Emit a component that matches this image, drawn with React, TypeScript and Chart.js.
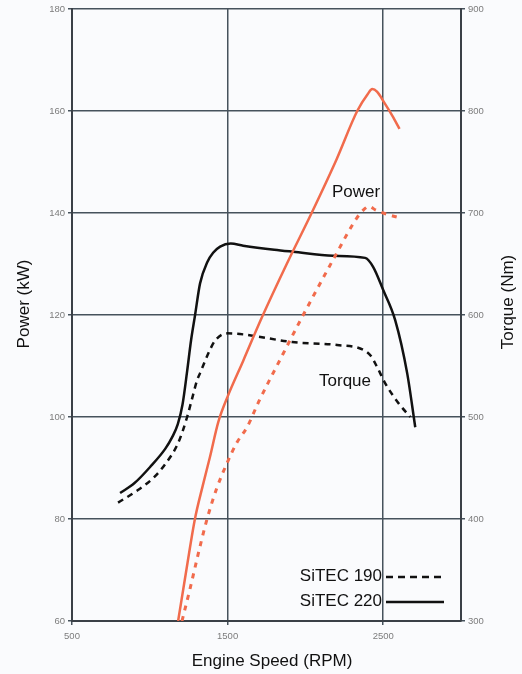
import { useEffect, useRef } from "react";
import { Chart, registerables } from "chart.js";

Chart.register(...registerables);

// ---- Data ----
const rpmTicks = [500, 1500, 2500];

const power220Rpm = [1182, 1235, 1290, 1340, 1387, 1440, 1500, 1600, 1720, 1880, 2040, 2200, 2333, 2400, 2430, 2460, 2510, 2560, 2605];
const power220Kw = [60, 70, 80, 86.5, 92.2, 99, 104, 111, 119.5, 130, 140, 150.5, 160, 163.3, 164.3, 163.8, 161.5, 159, 156.5];

const power190Rpm = [1207, 1260, 1310, 1368, 1430, 1497, 1560, 1625, 1700, 1850, 1986, 2190, 2330, 2380, 2410, 2450, 2500, 2610];
const power190Kw = [60, 66.5, 73, 80, 86, 91, 95, 98, 103, 112, 120, 131.5, 139, 140.8, 141.3, 140.6, 140, 139];

const torque220Rpm = [809, 900, 1002, 1100, 1143, 1180, 1210, 1240, 1265, 1291, 1323, 1370, 1407, 1452, 1520, 1600, 1800, 1921, 2178, 2384, 2436, 2500, 2577, 2654, 2706];
const torque220Nm = [425.5, 435, 451, 469, 480, 493, 512, 545, 575, 600, 631, 652, 661, 667, 670, 668, 664, 662, 658, 656, 647, 624.5, 595, 543, 490];

const torque190Rpm = [796, 900, 1021, 1100, 1182, 1240, 1270, 1304, 1323, 1387, 1420, 1497, 1600, 1915, 2204, 2371, 2420, 2461, 2513, 2596, 2674];
const torque190Nm = [416, 426, 440, 454, 474.5, 500, 517, 536, 543, 566, 575, 582, 581, 573.5, 570.6, 566, 560, 549, 533, 514, 500];

const legendLabels = ["SiTEC 190", "SiTEC 220"];
const seriesLabels = ["Power", "Torque"];
const axisTitles = { x: "Engine Speed (RPM)", y: "Power (kW)", y2: "Torque (Nm)" };

const zip = (xs: number[], ys: number[]) => xs.map((x, i) => ({ x, y: ys[i] }));

const ORANGE = "#f16b4c";
const BLACK = "#111111";
const GRID = "#46525c";
const TICKTXT = "#7c7c7c";
const FONT = "'Liberation Sans', Arial, sans-serif";

const textPlugin = {
  id: "textPlugin",
  afterDraw(chart: any) {
    const ctx = chart.ctx;
    ctx.save();
    ctx.fillStyle = "#111";
    ctx.font = `17px ${FONT}`;
    ctx.textAlign = "center";
    ctx.textBaseline = "middle";
    // axis titles
    ctx.fillText(axisTitles.x, 272, 661);
    ctx.save();
    ctx.translate(24, 304);
    ctx.rotate(-Math.PI / 2);
    ctx.fillText(axisTitles.y, 0, 0);
    ctx.restore();
    ctx.save();
    ctx.translate(508, 302);
    ctx.rotate(-Math.PI / 2);
    ctx.fillText(axisTitles.y2, 0, 0);
    ctx.restore();
    // series annotations
    ctx.fillText(seriesLabels[0], 356, 192);
    ctx.fillText(seriesLabels[1], 345, 381);
    // legend
    ctx.textAlign = "right";
    ctx.fillText(legendLabels[0], 382, 576);
    ctx.fillText(legendLabels[1], 382, 601);
    ctx.strokeStyle = BLACK;
    ctx.lineWidth = 2.5;
    ctx.setLineDash([7, 5]);
    ctx.beginPath();
    ctx.moveTo(386, 577);
    ctx.lineTo(444, 577);
    ctx.stroke();
    ctx.setLineDash([]);
    ctx.beginPath();
    ctx.moveTo(386, 602);
    ctx.lineTo(444, 602);
    ctx.stroke();
    ctx.restore();
  },
};

export default function App() {
  const ref = useRef<HTMLCanvasElement | null>(null);

  useEffect(() => {
    if (!ref.current) return;
    const tickFont = { size: 9.5, family: FONT };
    const plain = (v: any) => String(v);
    const chart = new Chart(ref.current, {
      type: "line",
      data: {
        datasets: [
          {
            label: "Power SiTEC 220",
            data: zip(power220Rpm, power220Kw),
            borderColor: ORANGE,
            borderWidth: 2.5,
            yAxisID: "y",
          },
          {
            label: "Power SiTEC 190",
            data: zip(power190Rpm, power190Kw),
            borderColor: ORANGE,
            borderWidth: 3,
            borderDash: [5, 6],
            yAxisID: "y",
          },
          {
            label: "Torque SiTEC 220",
            data: zip(torque220Rpm, torque220Nm),
            borderColor: BLACK,
            borderWidth: 2.5,
            yAxisID: "y2",
          },
          {
            label: "Torque SiTEC 190",
            data: zip(torque190Rpm, torque190Nm),
            borderColor: BLACK,
            borderWidth: 2.5,
            borderDash: [6, 5],
            yAxisID: "y2",
          },
        ],
      },
      options: {
        animation: false,
        responsive: true,
        maintainAspectRatio: false,
        layout: { padding: { top: 9, left: 0, right: 0, bottom: 0 } },
        elements: {
          point: { radius: 0 },
          line: { cubicInterpolationMode: "monotone", fill: false },
        },
        plugins: { legend: { display: false }, tooltip: { enabled: false } },
        scales: {
          x: {
            type: "linear",
            min: 500,
            max: 3000,
            afterBuildTicks: (axis: any) => {
              axis.ticks = rpmTicks.map((v) => ({ value: v }));
            },
            afterFit: (s: any) => {
              s.height = 53;
            },
            ticks: {
              autoSkip: false,
              maxRotation: 0,
              color: TICKTXT,
              font: tickFont,
              padding: 6,
              callback: plain,
            },
            grid: { color: GRID, lineWidth: 1.5, tickLength: 4, tickColor: GRID },
            border: { display: true, color: "#3a4047", width: 2 },
          },
          y: {
            type: "linear",
            position: "left",
            min: 60,
            max: 180,
            ticks: { stepSize: 20, color: TICKTXT, font: tickFont, padding: 3, callback: plain },
            afterFit: (s: any) => {
              s.width = 72;
            },
            grid: { color: GRID, lineWidth: 1.5, tickLength: 4, tickColor: GRID },
            border: { display: true, color: "#3a4047", width: 2 },
          },
          y2: {
            type: "linear",
            position: "right",
            min: 300,
            max: 900,
            ticks: { stepSize: 100, color: TICKTXT, font: tickFont, padding: 3, callback: plain },
            afterFit: (s: any) => {
              s.width = 61;
            },
            grid: { drawOnChartArea: false, color: GRID, lineWidth: 1.5, tickLength: 4, tickColor: GRID },
            border: { display: true, color: "#3a4047", width: 2 },
          },
        },
      },
      plugins: [textPlugin],
    } as any);
    return () => chart.destroy();
  }, []);

  return (
    <div
      style={{
        position: "fixed",
        left: 0,
        top: 0,
        width: 522,
        height: 674,
        background: "#fafbfd",
      }}
    >
      <canvas ref={ref} />
    </div>
  );
}
